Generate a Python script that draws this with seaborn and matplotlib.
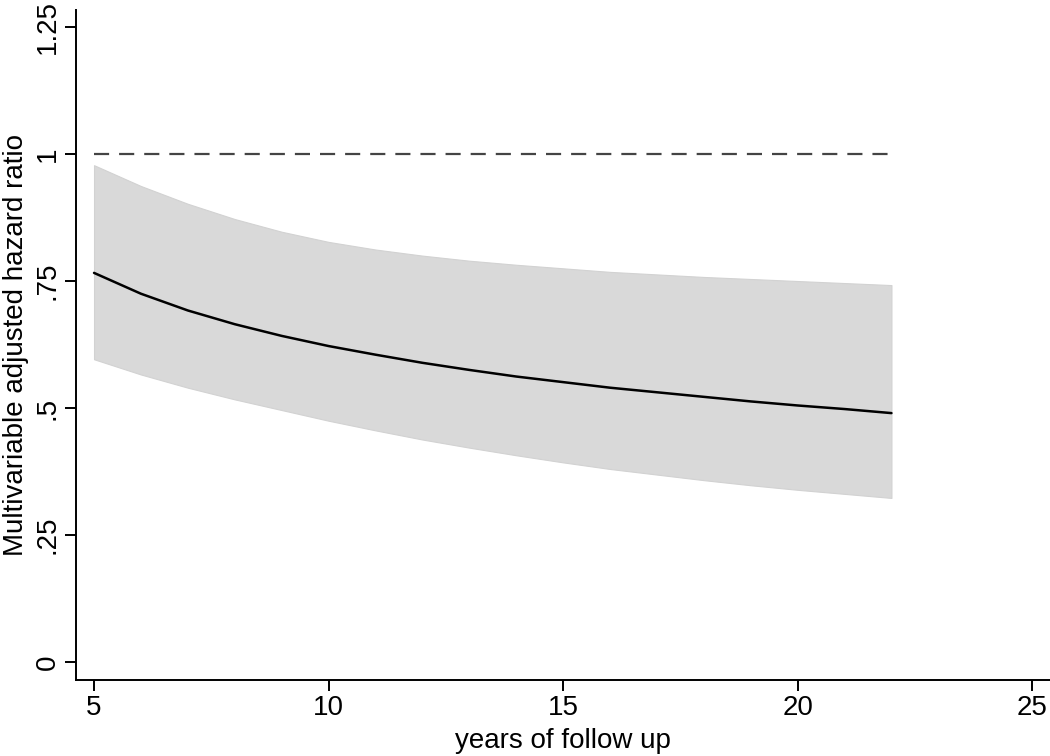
import matplotlib
matplotlib.use("Agg")
import matplotlib.pyplot as plt
import seaborn as sns
import pandas as pd

years = [5, 6, 7, 8, 9, 10, 11, 12, 13, 14, 15, 16, 17, 18, 19, 20, 21, 22]
hr = [0.766, 0.725, 0.692, 0.665, 0.642, 0.622, 0.605, 0.589, 0.575, 0.562,
      0.551, 0.540, 0.531, 0.522, 0.513, 0.505, 0.498, 0.490]
upper = [0.978, 0.937, 0.902, 0.872, 0.847, 0.827, 0.812, 0.800, 0.790, 0.782,
         0.775, 0.768, 0.763, 0.758, 0.754, 0.750, 0.746, 0.742]
lower = [0.596, 0.566, 0.540, 0.517, 0.496, 0.475, 0.456, 0.438, 0.422, 0.407,
         0.393, 0.380, 0.369, 0.358, 0.348, 0.339, 0.331, 0.323]
ref_x = [5, 22]
ref_y = [1, 1]
xticks = [5, 10, 15, 20, 25]
yticks = [0, 0.25, 0.5, 0.75, 1, 1.25]
ytick_labels = ["0", ".25", ".5", ".75", "1", "1.25"]

df = pd.DataFrame({"years": years, "hr": hr, "upper": upper, "lower": lower})
ref = pd.DataFrame({"x": ref_x, "y": ref_y})

sns.set_style("ticks")
plt.rcParams["font.family"] = ["Liberation Sans", "DejaVu Sans"]
plt.rcParams["text.color"] = "black"
plt.rcParams["axes.labelcolor"] = "black"
plt.rcParams["xtick.color"] = "black"
plt.rcParams["ytick.color"] = "black"

fig = plt.figure(figsize=(10.5, 7.56), dpi=100)
ax = fig.add_axes([0.0724, 0.1005, 0.9276, 0.8863])

ax.fill_between(df["years"], df["lower"], df["upper"], color="#d9d9d9",
                edgecolor="#d2d2d2", linewidth=0.8, zorder=1)
sns.lineplot(data=df, x="years", y="hr", ax=ax, color="black", linewidth=1.8,
             zorder=3)
sns.lineplot(data=ref, x="x", y="y", ax=ax, color="#444444", linewidth=1.6,
             linestyle=(0, (6.8, 4.5)), zorder=2)

ax.set_xlim(4.616, 25.38)
ax.set_ylim(-0.0354, 1.2835)
ax.set_xticks(xticks)
ax.set_xticklabels([str(t) for t in xticks])
ax.set_yticks(yticks)
ax.set_yticklabels(ytick_labels, rotation=90, va="center")

sns.despine(ax=ax)
for s in ["left", "bottom"]:
    ax.spines[s].set_linewidth(1.4)
    ax.spines[s].set_color("black")
ax.tick_params(axis="both", length=8, width=1.4, color="black",
               labelcolor="black", labelsize=20, pad=3)

ax.set_xlabel("years of follow up", fontsize=20, labelpad=5)
ax.set_ylabel("Multivariable adjusted hazard ratio", fontsize=20, labelpad=4)

fig.savefig("out.png", dpi=100)
